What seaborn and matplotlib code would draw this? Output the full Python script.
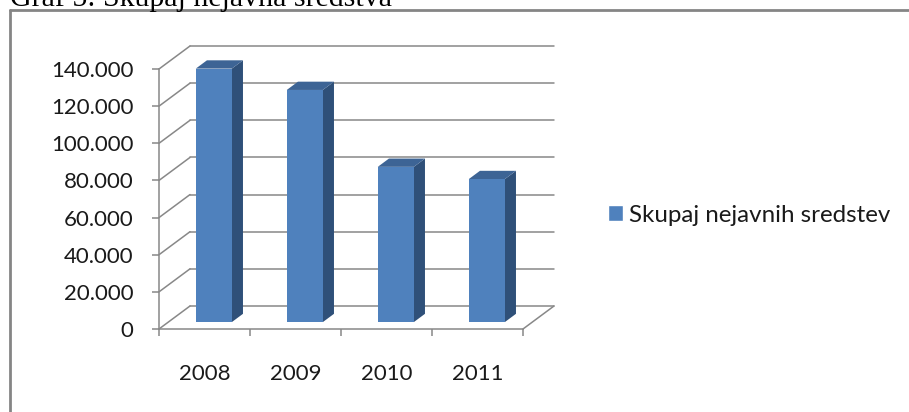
import matplotlib
matplotlib.use("Agg")
import matplotlib.pyplot as plt
import seaborn as sns
import pandas as pd
from matplotlib.patches import Polygon, Patch
from matplotlib.lines import Line2D

# ---- data ----
title = "Graf 5: Skupaj nejavna sredstva"
series_name = "Skupaj nejavnih sredstev"
years = ["2008", "2009", "2010", "2011"]
values = [136500, 125000, 83600, 77000]
y_ticks = [0, 20000, 40000, 60000, 80000, 100000, 120000, 140000]
y_tick_labels = [f"{v:,}".replace(",", ".") for v in y_ticks]

# ---- style / layout (pixels) ----
W, H = 909, 412
X0, X1 = 159, 523        # front floor left/right
Y0, YT = 329, 69         # front floor y, y of top tick
BDX, BDY = 31, 23        # depth offset of back wall
D0, D1 = 0.30, 0.66      # bar depth span (fraction)
BAR_W = 0.396
FRONT = "#4F81BD"
SIDE = "#2F5079"
TOP = "#3D6495"
GRID = "#888888"

sns.set_theme(style="white")
plt.rcParams["font.family"] = ["Lato", "DejaVu Sans"]

fig = plt.figure(figsize=(W / 100, H / 100), dpi=100)
ax = fig.add_axes([X0 / W, (H - Y0) / H, (X1 + BDX - X0) / W, (Y0 - YT + BDY) / H])

ymax = y_ticks[-1]
sx = (X1 - X0) / len(years)          # px per category
sy = (Y0 - YT) / ymax                # px per value unit
dxu = BDX / sx
dyu = BDY / sy

df = pd.DataFrame({"year": years, "value": values})
sns.barplot(data=df, x="year", y="value", color=FRONT, saturation=1,
            width=BAR_W, linewidth=0, ax=ax, zorder=4)

# back wall / side wall gridlines
for t in y_ticks:
    ax.plot([-0.5 + dxu, len(years) - 0.5 + dxu], [t + dyu, t + dyu],
            color=GRID, lw=1.1, zorder=1, clip_on=False)
    ax.plot([-0.5, -0.5 + dxu], [t, t + dyu], color=GRID, lw=1.1, zorder=1, clip_on=False)
ax.plot([len(years) - 0.5, len(years) - 0.5 + dxu], [0, dyu], color=GRID, lw=1.1,
        zorder=1, clip_on=False)

# 3D faces
ddx = (D1 - D0) * dxu
ddy = (D1 - D0) * dyu
for p in list(ax.patches):
    p.set_x(p.get_x() + D0 * dxu)
    p.set_y(p.get_y() + D0 * dyu)
    x, y, w, h = p.get_x(), p.get_y(), p.get_width(), p.get_height()
    side = Polygon([(x + w, y), (x + w + ddx, y + ddy), (x + w + ddx, y + h + ddy), (x + w, y + h)],
                   closed=True, facecolor=SIDE, edgecolor="none", zorder=3)
    top = Polygon([(x, y + h), (x + w, y + h), (x + w + ddx, y + h + ddy), (x + ddx, y + h + ddy)],
                  closed=True, facecolor=TOP, edgecolor="none", zorder=3)
    ax.add_patch(side)
    ax.add_patch(top)

ax.set_xlim(-0.5, len(years) - 0.5 + dxu)
ax.set_ylim(0, ymax + dyu)
ax.set_xlabel("")
ax.set_ylabel("")

for s in ["top", "right"]:
    ax.spines[s].set_visible(False)
ax.spines["left"].set_bounds(0, ymax)
ax.spines["bottom"].set_bounds(-0.5, len(years) - 0.5)
for s in ["left", "bottom"]:
    ax.spines[s].set_color(GRID)
    ax.spines[s].set_linewidth(1.1)
    ax.spines[s].set_zorder(5)

ax.set_yticks(y_ticks, labels=y_tick_labels)
ax.set_xticks([i - 0.5 for i in range(len(years) + 1)], labels=[""] * (len(years) + 1))
ax.set_xticks(range(len(years)), labels=years, minor=True)
ax.tick_params(axis="y", left=True, length=5, width=1.1, color=GRID, pad=13.5,
               labelsize=16, labelcolor="#1a1a1a")
ax.tick_params(axis="x", which="major", bottom=True, length=5, width=1.1, color=GRID)
ax.tick_params(axis="x", which="minor", bottom=True, length=0, pad=25,
               labelsize=16, labelcolor="#1a1a1a")
ax.patch.set_alpha(0)

ax.legend(handles=[Patch(facecolor=FRONT)], labels=[series_name],
          loc="center left", bbox_to_anchor=(608 / W, 1 - 215 / H),
          bbox_transform=fig.transFigure, frameon=False, fontsize=17.4,
          handlelength=0.6, handleheight=0.6, handletextpad=0.28,
          borderpad=0, borderaxespad=0, labelcolor="#1a1a1a")

# frame and (cut-off, as in the reference) title
fig.add_artist(Line2D([9.5 / W, 1], [1 - 10 / H, 1 - 10 / H], transform=fig.transFigure,
                      color="#858585", lw=2.0))
fig.add_artist(Line2D([9.5 / W, 9.5 / W], [0, 1 - 10 / H], transform=fig.transFigure,
                      color="#858585", lw=2.0))
fig.text(10 / W, 1 - 5.5 / H, title, family=["Liberation Serif", "DejaVu Serif"],
         fontsize=21.5, va="baseline", ha="left", color="black")

fig.savefig("out.png", dpi=100)
